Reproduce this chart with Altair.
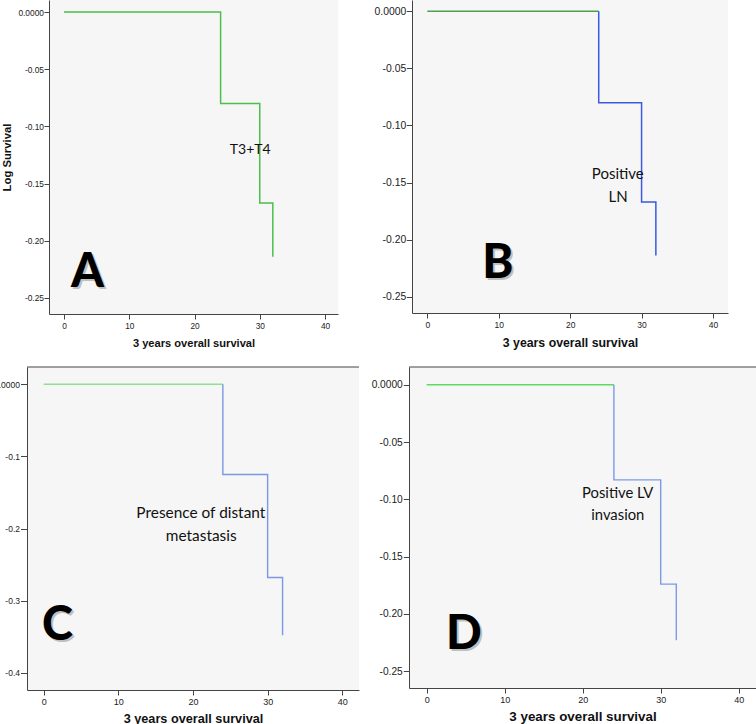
import altair as alt
import pandas as pd

# ---------------- data ----------------
x_ticks = [0, 10, 20, 30, 40]
event_times = [24, 30, 32]

logsurv_A = [-0.080, -0.167, -0.214]
logsurv_B = [-0.080, -0.167, -0.214]
logsurv_C = [-0.125, -0.268, -0.348]
logsurv_D = [-0.083, -0.174, -0.223]

y_ticks_A = [0.0, -0.05, -0.10, -0.15, -0.20, -0.25]
y_ticks_B = [0.0, -0.05, -0.10, -0.15, -0.20, -0.25]
y_ticks_C = [0.0, -0.1, -0.2, -0.3, -0.4]
y_ticks_D = [0.0, -0.05, -0.10, -0.15, -0.20, -0.25]

x_title = "3 years overall survival"
y_title = "Log Survival"

notes_A = ["T3+T4"]
notes_A_x = [28.55]
notes_A_y = [-0.1241]
notes_B = ["Positive", "LN"]
notes_B_x = [26.67, 26.7]
notes_B_y = [-0.1472, -0.1668]
notes_C = ["Presence of distant", "metastasis"]
notes_C_x = [21.05, 21.1]
notes_C_y = [-0.1854, -0.2169]
notes_D = ["Positive LV", "invasion"]
notes_D_x = [24.49, 24.5]
notes_D_y = [-0.0986, -0.1184]

letters = ["A", "B", "C", "D"]
letter_x = [3.6, 9.86, 1.85, 4.78]
letter_y = [-0.2404, -0.2336, -0.354, -0.2308]

FONT = "Liberation Sans"
NOTE_FONT = "Lato"
BG = "#f6f6f6"
AXC = "#444444"


def curve_parts(times, vals, split):
    """Return (before, after) step-curve tables."""
    if split:
        before = pd.DataFrame({"x": [0, times[0]], "y": [0.0, 0.0], "i": [0, 1]})
        pts = [(times[0], 0.0)] + list(zip(times, vals))
    else:
        before = None
        pts = [(0, 0.0)] + list(zip(times, vals))
    after = pd.DataFrame({"x": [p[0] for p in pts], "y": [p[1] for p in pts],
                          "i": list(range(len(pts)))})
    return before, after


def make_panel(parts, colors, sw, notes, nx, ny, nfs, letter_idx,
               xdom, ydom, yticks, ydec, w, h,
               xlfs, ylfs, tfs, tpad, ytick, ylpad,
               ytitle=None, top_rule=False):
    xaxis = alt.Axis(values=x_ticks, title=x_title, titleFont=FONT,
                     titleFontSize=tfs, titleFontWeight="bold", titleColor="#111111",
                     titlePadding=tpad, labelFont=FONT, labelFontSize=xlfs,
                     labelColor="#222222", labelPadding=2, labelFlush=False,
                     tickSize=5, tickColor=AXC, tickWidth=1,
                     domainColor=AXC, domainWidth=1, grid=False)
    ylab = ("datum.value == 0 ? '0.0000' : '-' + format(-datum.value, '.%df')" % ydec)
    if ytitle is not None:
        yaxis = alt.Axis(values=yticks, labelExpr=ylab, title=ytitle, titleFont=FONT,
                         titleFontSize=11.3, titleFontWeight="bold", titleColor="#111111",
                         titlePadding=5, labelFont=FONT, labelFontSize=ylfs,
                         labelColor="#222222", labelPadding=ylpad, tickSize=ytick,
                         tickColor=AXC, tickWidth=1, domainColor=AXC, domainWidth=1,
                         grid=False)
    else:
        yaxis = alt.Axis(values=yticks, labelExpr=ylab, title=None,
                         labelFont=FONT, labelFontSize=ylfs,
                         labelColor="#222222", labelPadding=ylpad, tickSize=ytick,
                         tickColor=AXC, tickWidth=1, domainColor=AXC, domainWidth=1,
                         grid=False)
    X = alt.X("x:Q", scale=alt.Scale(domain=xdom, nice=False, zero=False), axis=xaxis)
    Y = alt.Y("y:Q", scale=alt.Scale(domain=ydom, nice=False, zero=False), axis=yaxis)

    before, after = parts
    layers = []
    if before is not None:
        layers.append(alt.Chart(before).mark_line(
            interpolate="step-after", strokeWidth=sw, color=colors[0]).encode(
            x=X, y=Y, order=alt.Order("i:Q")))
    layers.append(alt.Chart(after).mark_line(
        interpolate="step-after", strokeWidth=sw, color=colors[1]).encode(
        x=X, y=Y, order=alt.Order("i:Q")))
    if top_rule:
        rdf = pd.DataFrame({"x": [xdom[0]], "x2": [xdom[1]], "y": [ydom[1]]})
        layers.append(alt.Chart(rdf).mark_rule(color=AXC, strokeWidth=1).encode(
            x=X, x2="x2:Q", y=Y))
    ndf = pd.DataFrame({"x": nx, "y": ny, "label": notes})
    layers.append(alt.Chart(ndf).mark_text(font=NOTE_FONT, fontSize=nfs, align="center",
                                           baseline="alphabetic", fill="#111111").encode(
        x=X, y=Y, text="label:N"))
    ldf = pd.DataFrame({"x": [letter_x[letter_idx]], "y": [letter_y[letter_idx]],
                        "label": [letters[letter_idx]]})
    layers.append(alt.Chart(ldf).mark_text(font=NOTE_FONT, fontSize=47, fontWeight=900,
                                           align="center", baseline="alphabetic",
                                           fill="#9a9a9a", fillOpacity=0.6, dx=2, dy=2).encode(
        x=X, y=Y, text="label:N"))
    layers.append(alt.Chart(ldf).mark_text(font=NOTE_FONT, fontSize=47, fontWeight=900,
                                           align="center", baseline="alphabetic",
                                           fill="#000000").encode(
        x=X, y=Y, text="label:N"))
    return alt.layer(*layers).properties(width=w, height=h,
                                         view=alt.ViewBackground(fill=BG))


def spacer(w, h):
    return alt.Chart(pd.DataFrame({"x": [0]})).mark_point(opacity=0).encode(
        x=alt.value(0), y=alt.value(0)).properties(width=w, height=h)


pA = make_panel(curve_parts(event_times, logsurv_A, False), ["#4cbf4c", "#4cbf4c"], 1.5,
                notes_A, notes_A_x, notes_A_y, 14, 0,
                [-2.299, 41.99], [-0.26399, 0.01049], y_ticks_A, 2, 289, 314,
                8.3, 8.4, 11.1, 8, 5, 0.5, ytitle=y_title)
pB = make_panel(curve_parts(event_times, logsurv_B, True), ["#4f9f4f", "#3a5ae0"], 1.5,
                notes_B, notes_B_x, notes_B_y, 15, 1,
                [-2.142, 42.10], [-0.26428, 0.0099], y_ticks_B, 2, 316, 313,
                8.5, 10.4, 12.3, 7.6, 5.7, 0.5)
pC = make_panel(curve_parts(event_times, logsurv_C, True), ["#8de08d", "#7b98e2"], 1.4,
                notes_C, notes_C_x, notes_C_y, 15.4, 2,
                [-2.237, 42.24], [-0.424, 0.024], y_ticks_C, 1, 332, 323,
                9, 8.5, 12.7, 6.5, 6.5, 1, top_rule=True)
pD = make_panel(curve_parts(event_times, logsurv_D, True), ["#5fdc5f", "#7b9ae6"], 1.4,
                notes_D, notes_D_x, notes_D_y, 14.8, 3,
                [-2.269, 42.22], [-0.26457, 0.01544], y_ticks_D, 2, 347, 321,
                9, 10.2, 13.4, 5.5, 5.7, 1, top_rule=True)

row1 = alt.hconcat(spacer(22, 364), pA, spacer(74, 1), pB, spacing=0, bounds="flush")
row2 = alt.hconcat(pC, spacer(50, 1), pD, spacing=0, bounds="flush")

chart = alt.vconcat(row1, row2, spacing=0).properties(
    padding={"left": 27, "top": 0, "right": 729, "bottom": 724},
    autosize=alt.AutoSizeParams(type="none"),
    background="white",
).configure_view(stroke=None)

chart.save("out.html", embed_options={"renderer": "svg", "actions": False})
